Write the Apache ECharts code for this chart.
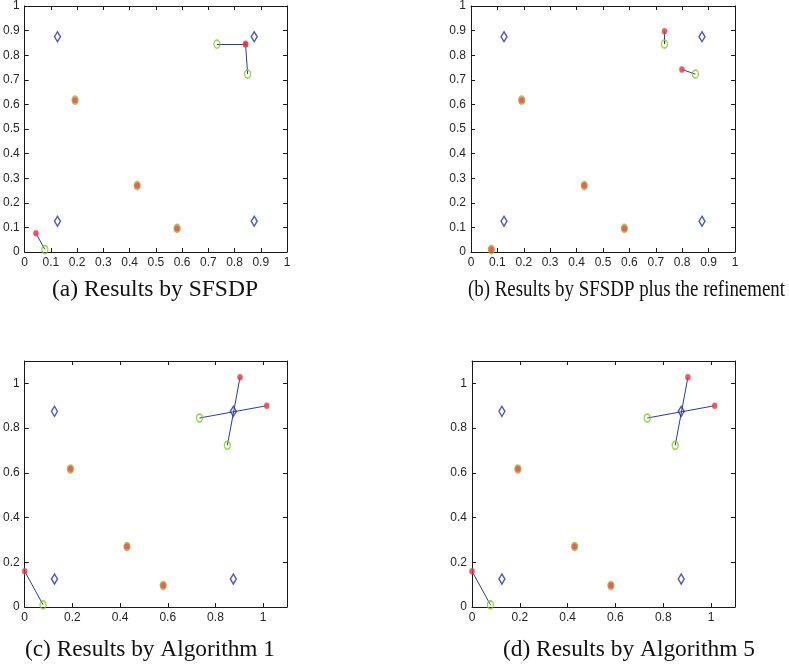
<!DOCTYPE html>
<html>
<head>
<meta charset="utf-8">
<script src="https://cdn.jsdelivr.net/npm/echarts@6/dist/echarts.min.js"></script>
<style>
html, body { margin: 0; padding: 0; background: #fff; }
#main { width: 789px; height: 668px; }
</style>
</head>
<body>
<div id="main"></div>
<script>
// anchors (blue diamonds)
var anchorX = [0.125, 0.875, 0.125, 0.875];
var anchorY = [0.875, 0.875, 0.125, 0.125];
// true sensor positions (green circles)
var trueX = [0.192, 0.429, 0.581, 0.077, 0.733, 0.850];
var trueY = [0.617, 0.270, 0.096, 0.010, 0.845, 0.723];
// estimated positions (red) for each panel
var estAX = [0.192, 0.429, 0.581, 0.043, 0.842, 0.842];
var estAY = [0.617, 0.270, 0.096, 0.076, 0.845, 0.845];
var estBX = [0.192, 0.429, 0.581, 0.077, 0.733, 0.799];
var estBY = [0.617, 0.270, 0.096, 0.010, 0.897, 0.742];
var estCX = [0.192, 0.429, 0.581, 0.000, 1.015, 0.903];
var estCY = [0.617, 0.270, 0.096, 0.160, 0.900, 1.027];
var estDX = [0.192, 0.429, 0.581, 0.000, 1.015, 0.903];
var estDY = [0.617, 0.270, 0.096, 0.160, 0.900, 1.027];

var captions = ['(a) Results by SFSDP', '(b) Results by SFSDP plus the refinement',
                '(c) Results by Algorithm 1', '(d) Results by Algorithm 5'];
var axisMax = [1, 1, 1.1, 1.1];
var axisStep = [0.1, 0.1, 0.2, 0.2];

var estX = [estAX, estBX, estCX, estDX];
var estY = [estAY, estBY, estCY, estDY];

var grids = [
    {left: 23, top: 5, width: 264, height: 247},
    {left: 471, top: 5, width: 264, height: 247},
    {left: 23, top: 361, width: 264, height: 246},
    {left: 472, top: 361, width: 263, height: 246}
];
// caption boxes: [left, right, centerY]
var captionBox = [[52, 258, 290], [468, 785, 290], [25, 275, 650], [503, 755, 650]];
var captionFont = '23px "Liberation Serif", "Times New Roman", serif';

function zip(xs, ys) {
    return xs.map(function (x, i) { return [x, ys[i]]; });
}

// measure caption text so it can be squeezed to the printed width
var ctx = document.createElement('canvas').getContext('2d');
ctx.font = captionFont;

var xAxes = [], yAxes = [], series = [], graphics = [];
var frame = {show: true, onZero: false, lineStyle: {color: '#1a1a1a', width: 1}};
var tick = {show: true, inside: true, length: 4, lineStyle: {color: '#1a1a1a'}};
var labelStyle = {color: '#262626', fontSize: 12, fontFamily: 'Liberation Sans, Arial, sans-serif'};

for (var i = 0; i < 4; i++) {
    ['bottom', 'top'].forEach(function (pos, k) {
        xAxes.push({
            type: 'value', gridIndex: i, position: pos, min: 0, max: axisMax[i], interval: axisStep[i],
            axisLine: frame, splitLine: {show: false}, axisTick: tick,
            axisLabel: k === 0 ? Object.assign({show: true, margin: 5, showMaxLabel: axisMax[i] === 1}, labelStyle) : {show: false}
        });
    });
    ['left', 'right'].forEach(function (pos, k) {
        yAxes.push({
            type: 'value', gridIndex: i, position: pos, min: 0, max: axisMax[i], interval: axisStep[i],
            axisLine: frame, splitLine: {show: false}, axisTick: tick,
            axisLabel: k === 0 ? Object.assign({show: true, margin: 5, showMaxLabel: axisMax[i] === 1}, labelStyle) : {show: false}
        });
    });

    var tp = zip(trueX, trueY);
    var ep = zip(estX[i], estY[i]);
    var links = [];
    tp.forEach(function (p, j) {
        if (p[0] !== ep[j][0] || p[1] !== ep[j][1]) links.push({coords: [p, ep[j]]});
    });

    series.push({
        type: 'lines', coordinateSystem: 'cartesian2d', xAxisIndex: 2 * i, yAxisIndex: 2 * i,
        data: links, lineStyle: {color: '#2b3aa8', width: 1, opacity: 1}, z: 2, silent: true
    });
    series.push({
        type: 'scatter', xAxisIndex: 2 * i, yAxisIndex: 2 * i, data: zip(anchorX, anchorY),
        symbol: 'diamond', symbolSize: [6, 10],
        itemStyle: {color: 'rgba(0,0,0,0)', borderColor: '#2233aa', borderWidth: 1.5}, z: 3
    });
    series.push({
        type: 'scatter', xAxisIndex: 2 * i, yAxisIndex: 2 * i, data: tp,
        symbol: 'circle', symbolSize: [6, 8],
        itemStyle: {color: 'rgba(0,0,0,0)', borderColor: '#7ccf10', borderWidth: 1.5}, z: 4
    });
    series.push({
        type: 'scatter', xAxisIndex: 2 * i, yAxisIndex: 2 * i, data: ep,
        symbol: 'circle', symbolSize: [5, 6],
        itemStyle: {color: '#e8323c', borderColor: 'rgba(240,90,90,0.6)', borderWidth: 1}, z: 5
    });

    var box = captionBox[i];
    var w = ctx.measureText(captions[i]).width;
    var sx = (box[1] - box[0]) / w;
    graphics.push({
        type: 'text', x: box[0], y: box[2], scaleX: sx,
        style: {text: captions[i], font: captionFont, fill: '#111', textAlign: 'left', textVerticalAlign: 'middle'}
    });
}

var myChart = echarts.init(document.getElementById('main'));
var option = {
    animation: false,
    grid: grids,
    xAxis: xAxes,
    yAxis: yAxes,
    series: series,
    graphic: graphics
};
myChart.setOption(option, true);
window.addEventListener('resize', function () {
    myChart.resize();
});
</script>
</body>
</html>
